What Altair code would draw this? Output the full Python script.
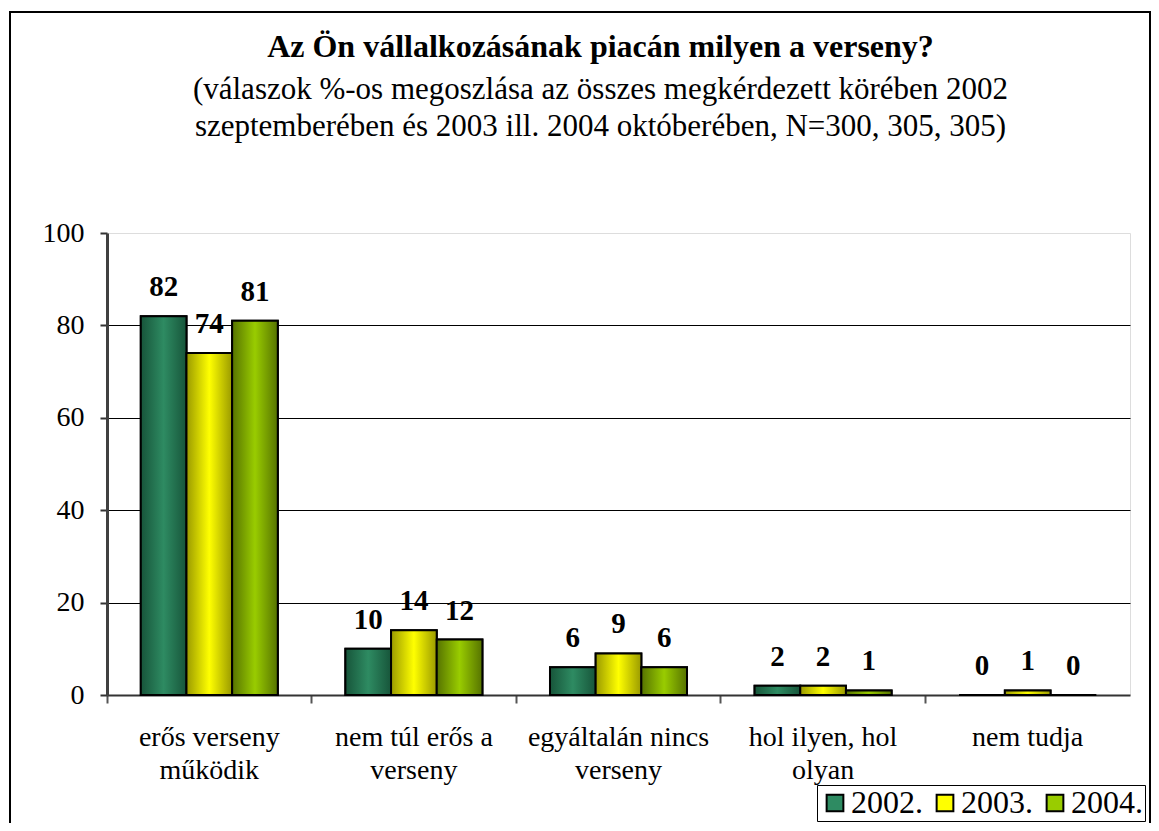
import altair as alt
import pandas as pd

categories = ["erős verseny|működik", "nem túl erős a|verseny", "egyáltalán nincs|verseny",
              "hol ilyen, hol|olyan", "nem tudja"]
years = ["2002.", "2003.", "2004."]
v2002 = [82, 10, 6, 2, 0]
v2003 = [74, 14, 9, 2, 1]
v2004 = [81, 12, 6, 1, 0]
colors = ["#2E8B62", "#FFFF00", "#99CC00"]
dark = ["#17553A", "#9A9A00", "#567300"]
y_ticks = [0, 20, 40, 60, 80, 100]

title = "Az Ön vállalkozásának piacán milyen a verseny?"
subtitle = ["(válaszok %-os megoszlása az összes megkérdezett körében 2002",
            "szeptemberében és 2003 ill. 2004 októberében, N=300, 305, 305)"]

rows = []
for yr, vals in zip(years, [v2002, v2003, v2004]):
    for c, v in zip(categories, vals):
        rows.append({"cat": c, "year": yr, "value": v})
df = pd.DataFrame(rows)

FONT = "Liberation Serif"
W, H = 1023, 462

x = alt.X("cat:N", sort=categories, title=None,
          scale=alt.Scale(paddingInner=0, paddingOuter=0),
          axis=alt.Axis(bandPosition=0, labelExpr="split(datum.label, '|')",
                        labelFont=FONT, labelFontSize=28, labelLineHeight=33, labelColor="black",
                        labelPadding=20, labelAngle=0, labelLimit=400,
                        tickColor="#555555", tickSize=8, tickWidth=2,
                        domainColor="#333333", domainWidth=2, grid=False))
xoff = alt.XOffset("year:N", sort=years, scale=alt.Scale(paddingInner=0, paddingOuter=0.74))
y = alt.Y("value:Q", title=None,
          scale=alt.Scale(domain=[0, 100], nice=False),
          axis=alt.Axis(values=y_ticks, labelFont=FONT, labelFontSize=28, labelColor="black",
                        labelPadding=16, tickColor="#333333", tickSize=7, tickWidth=2,
                        domainColor="#404040", domainWidth=3,
                        grid=True, gridColor="black", gridWidth=1,
                        gridOpacity={"condition": {"test": "datum.value == 100 || datum.value == 0", "value": 0}, "value": 1}))

frame = alt.Chart(pd.DataFrame({"k": [0]})).mark_rect(
    fill=None, stroke="black", strokeWidth=2
).encode(x=alt.value(-97), x2=alt.value(1043), y=alt.value(-221), y2=alt.value(700))

base = alt.Chart(df)
bars = base.mark_bar(stroke="black", strokeWidth=2).encode(
    x=x, xOffset=xoff, y=y,
    color=alt.Color("year:N", sort=years, scale=alt.Scale(domain=years, range=colors),
                    legend=alt.Legend(title=None, orient="none", legendX=710, legendY=552,
                                      direction="horizontal", symbolType="square", symbolSize=280,
                                      symbolStrokeColor="black", symbolStrokeWidth=2,
                                      labelFont=FONT, labelFontSize=32, labelColor="black",
                                      strokeColor="black", padding=2, columnPadding=6,
                                      labelOffset=0, symbolOpacity=1)),
)

grad_layers = []
for yr, c, d in zip(years, colors, dark):
    g = alt.Gradient(gradient="linear", x1=0, x2=1, y1=0, y2=0,
                     stops=[alt.GradientStop(offset=0, color=d),
                            alt.GradientStop(offset=0.5, color=c),
                            alt.GradientStop(offset=1, color=d)])
    grad_layers.append(
        base.transform_filter(alt.datum.year == yr).mark_bar(color=g, stroke="black", strokeWidth=2)
        .encode(x=x, xOffset=xoff, y=y)
    )

labels = base.mark_text(font=FONT, fontSize=29, fontWeight="bold", color="black",
                        baseline="alphabetic", dy=-20).encode(
    x=x, xOffset=xoff, y=y, text=alt.Text("value:Q"))

chart = alt.layer(frame, bars, *grad_layers, labels).properties(
    width=W, height=H,
    title=alt.TitleParams(text=title, subtitle=subtitle, anchor="middle", dx=-18, offset=-132,
                          font=FONT, fontSize=32, fontWeight="bold", color="black",
                          subtitleFont=FONT, subtitleFontSize=31, subtitleColor="black",
                          subtitleLineHeight=37, subtitlePadding=11),
    autosize=alt.AutoSizeParams(type="none"),
    padding={"left": 99, "top": 225, "right": 21, "bottom": 128},
).configure_view(fill="#FFFFCC", stroke="#808080", strokeWidth=3).configure(background="white")

chart.save("out.html", embed_options={"renderer": "svg", "actions": False})
